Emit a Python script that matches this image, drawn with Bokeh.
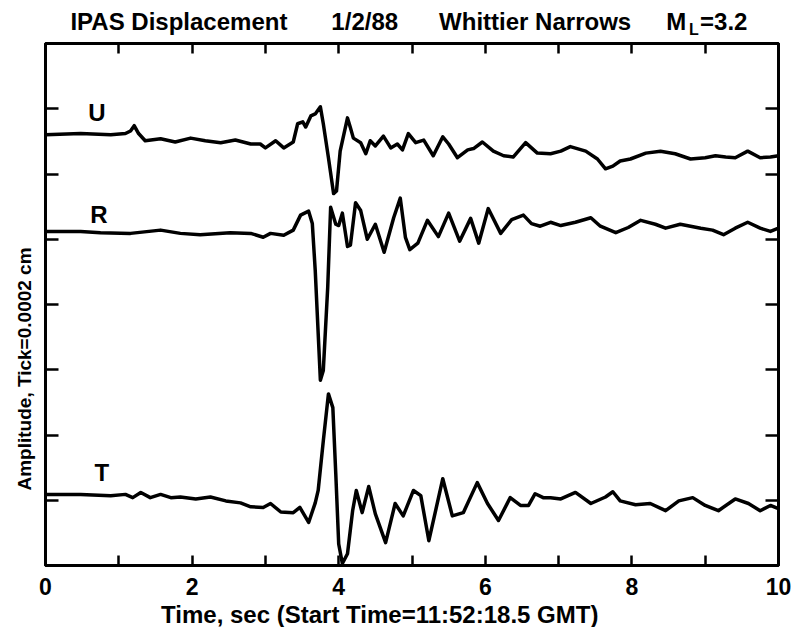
import math
from bokeh.plotting import figure
from bokeh.models import Range1d, FixedTicker, LinearAxis, Label, Title, Grid
from bokeh.layouts import column
from bokeh.embed import file_html
from bokeh.resources import INLINE

# ---------------- data ----------------
TITLE_PARTS = ["IPAS Displacement", "1/2/88", "Whittier Narrows", "M", "L", "=3.2"]
X_LABEL = "Time, sec (Start Time=11:52:18.5 GMT)"
Y_LABEL = "Amplitude, Tick=0.0002 cm"
TIME_TICKS = [0, 1, 2, 3, 4, 5, 6, 7, 8, 9, 10]
TIME_TICK_LABELS = ["0", "", "2", "", "4", "", "6", "", "8", "", "10"]
AMP_TICKS = [1, 2, 3, 4, 5, 6, 7]
COMPONENTS = ["U", "R", "T"]
TRACE_OFFSETS = [6.6, 5.12, 1.07]   # baseline of each trace, in ticks

u_time = [0, 0.48, 0.89, 1.09, 1.16, 1.21, 1.27, 1.36, 1.57, 1.77, 1.98, 2.18, 2.39, 2.59,
          2.80, 2.93, 3.00, 3.14, 3.25, 3.38, 3.44, 3.51, 3.55, 3.62, 3.68, 3.75, 3.79,
          3.86, 3.93, 3.97, 4.02, 4.12, 4.16, 4.20, 4.30, 4.37, 4.43, 4.50, 4.61, 4.71,
          4.80, 4.87, 4.95, 5.05, 5.16, 5.29, 5.42, 5.50, 5.62, 5.76, 5.84, 5.96, 6.11,
          6.25, 6.38, 6.55, 6.71, 6.89, 7.03, 7.16, 7.37, 7.53, 7.64, 7.74, 7.84, 7.98,
          8.19, 8.39, 8.59, 8.80, 9.00, 9.14, 9.28, 9.41, 9.58, 9.75, 9.89, 10.0]
u_amp = [0, 0.02, 0, 0.02, 0.06, 0.14, 0.02, -0.09, -0.06, -0.11, -0.05, -0.09, -0.12, -0.08,
         -0.14, -0.14, -0.20, -0.09, -0.20, -0.11, 0.17, 0.20, 0.12, 0.29, 0.32, 0.43, 0.17,
         -0.35, -0.90, -0.86, -0.25, 0.26, 0.11, -0.05, -0.12, -0.29, -0.09, -0.17, -0.02, -0.20,
         -0.14, -0.23, 0.02, -0.12, -0.08, -0.32, -0.03, -0.14, -0.35, -0.23, -0.21, -0.11, -0.25,
         -0.32, -0.34, -0.12, -0.28, -0.29, -0.25, -0.18, -0.25, -0.37, -0.52, -0.48, -0.40, -0.37,
         -0.28, -0.25, -0.29, -0.37, -0.35, -0.32, -0.34, -0.35, -0.25, -0.35, -0.34, -0.32]

r_time = [0, 0.48, 0.75, 1.16, 1.57, 1.84, 2.11, 2.52, 2.80, 2.97, 3.07, 3.25, 3.38, 3.48,
          3.59, 3.64, 3.68, 3.75, 3.79, 3.85, 3.89, 3.96, 4.00, 4.05, 4.12, 4.16, 4.23,
          4.30, 4.39, 4.50, 4.62, 4.75, 4.84, 4.91, 4.97, 5.08, 5.21, 5.36, 5.50, 5.65,
          5.80, 5.91, 6.04, 6.21, 6.36, 6.52, 6.63, 6.75, 6.89, 7.03, 7.23, 7.44, 7.57,
          7.78, 7.95, 8.12, 8.32, 8.46, 8.66, 8.94, 9.10, 9.25, 9.41, 9.58, 9.75, 9.89, 10.0]
r_amp = [0, 0, -0.02, -0.03, 0.02, -0.03, -0.05, -0.02, -0.03, -0.09, -0.03, -0.06, 0.02, 0.25,
         0.31, 0.12, -0.60, -2.28, -2.13, -0.86, 0.37, 0.11, 0.09, 0.28, -0.23, -0.21, 0.44,
         0.32, -0.12, 0.11, -0.32, 0.21, 0.51, -0.09, -0.28, -0.18, 0.17, -0.08, 0.28, -0.15,
         0.20, -0.18, 0.35, -0.03, 0.18, 0.25, 0.12, 0.08, 0.14, 0.09, 0.14, 0.21, 0.08,
         -0.02, 0.06, 0.17, 0.11, 0.05, 0.11, 0.05, 0.02, -0.05, 0.05, 0.14, 0.05, 0, 0.05]

t_time = [0, 0.48, 0.89, 1.09, 1.19, 1.30, 1.43, 1.57, 1.71, 1.84, 2.05, 2.25, 2.46, 2.66,
          2.80, 2.97, 3.07, 3.21, 3.38, 3.47, 3.59, 3.68, 3.72, 3.79, 3.86, 3.92, 3.96,
          4.00, 4.05, 4.12, 4.19, 4.24, 4.32, 4.41, 4.50, 4.64, 4.77, 4.88, 5.02, 5.12,
          5.23, 5.42, 5.55, 5.70, 5.89, 6.03, 6.18, 6.34, 6.48, 6.59, 6.68, 6.79, 6.89,
          7.03, 7.23, 7.44, 7.64, 7.74, 7.84, 8.05, 8.25, 8.46, 8.64, 8.83, 9.00, 9.18,
          9.41, 9.59, 9.75, 9.89, 10.0]
t_amp = [0.02, 0.02, 0, 0.02, -0.03, 0.05, -0.03, 0.02, -0.03, -0.02, -0.05, -0.02, -0.08, -0.11,
         -0.17, -0.18, -0.12, -0.25, -0.26, -0.18, -0.41, -0.11, 0.08, 0.84, 1.56, 1.35, 0.34,
         -0.74, -1.04, -0.89, -0.23, 0.08, -0.26, 0.14, -0.28, -0.72, -0.12, -0.31, 0.08, 0,
         -0.69, 0.26, -0.31, -0.26, 0.20, -0.12, -0.38, -0.03, -0.15, -0.15, 0.03, -0.03, -0.03,
         -0.05, 0.05, -0.12, -0.02, 0.06, -0.08, -0.14, -0.12, -0.23, -0.08, -0.03, -0.15, -0.23,
         -0.05, -0.12, -0.23, -0.15, -0.20]

TRACES = [(u_time, u_amp), (r_time, r_amp), (t_time, t_amp)]

# ---------------- layout constants ----------------
FONT = "Liberation Sans"
W = 791
TITLE_H = 40
BOTTOM_H = 27
MAIN_H = 627 - TITLE_H - BOTTOM_H
LEFT, RIGHT, TOP, BOTTOM = 45, 13, 3, 35


def strip(height):
    f = figure(width=W, height=height,
               x_range=Range1d(0, 10), y_range=Range1d(0, height),
               x_axis_location=None, y_axis_location=None,
               output_backend="svg", toolbar_location=None,
               min_border_left=LEFT, min_border_right=RIGHT,
               min_border_top=0, min_border_bottom=0)
    f.title.visible = False
    f.outline_line_color = None
    f.background_fill_color = None
    f.border_fill_color = None
    for g in f.select(type=Grid):
        g.visible = False
    return f


# ---------------- title strip ----------------
tf = strip(TITLE_H)
title_pos = [(0.34, 19, "24px"), (3.90, 19, "24px"), (5.37, 19, "24px"),
             (8.47, 19, "24px"), (8.78, 11, "16px"), (8.93, 19, "24px")]
for txt, (tx, ty, fs) in zip(TITLE_PARTS, title_pos):
    tf.add_layout(Label(x=tx, y=ty, text=txt, text_font=FONT, text_font_style="bold",
                        text_font_size=fs, text_align="left", text_baseline="middle",
                        text_color="black"))

# ---------------- main plot ----------------
p = figure(width=W, height=MAIN_H,
           x_range=Range1d(0, 10), y_range=Range1d(0, 8),
           output_backend="svg", toolbar_location=None,
           min_border_left=LEFT, min_border_right=RIGHT,
           min_border_top=TOP, min_border_bottom=BOTTOM)
p.title.visible = False
p.background_fill_color = "white"
p.border_fill_color = None
p.outline_line_color = "black"
p.outline_line_width = 3
for g in p.select(type=Grid):
    g.visible = False


def style_axis(ax, ticks, tick_len, show_labels):
    ax.ticker = FixedTicker(ticks=ticks)
    ax.major_tick_in = tick_len
    ax.major_tick_out = 0
    ax.minor_tick_line_color = None
    ax.axis_line_color = "black"
    ax.axis_line_width = 3
    ax.major_tick_line_color = "black"
    ax.major_tick_line_width = 2.5
    if show_labels:
        ax.major_label_text_font = FONT
        ax.major_label_text_font_style = "bold"
        ax.major_label_text_font_size = "23px"
        ax.major_label_text_color = "black"
        ax.major_label_standoff = 12
    else:
        ax.major_label_text_font_size = "0px"
        ax.major_label_standoff = 0


bottom = p.xaxis[0]
style_axis(bottom, TIME_TICKS, 10, True)
bottom.major_label_overrides = {t: lab for t, lab in zip(TIME_TICKS, TIME_TICK_LABELS)}

top = LinearAxis()
style_axis(top, TIME_TICKS, 10, False)
p.add_layout(top, "above")

left = p.yaxis[0]
style_axis(left, AMP_TICKS, 13, False)

right = LinearAxis()
style_axis(right, AMP_TICKS, 13, False)
p.add_layout(right, "right")

p.add_layout(Title(text=Y_LABEL, text_font=FONT, text_font_style="bold",
                   text_font_size="19px", text_color="black",
                   align="left", offset=75, standoff=21), "left")

# traces
for (tt, aa), off in zip(TRACES, TRACE_OFFSETS):
    p.line(tt, [off + a for a in aa], line_color="black", line_width=3.5,
           line_join="round", line_cap="round")

# component labels
comp_pos = [(0.70, 6.94), (0.73, 5.38), (0.77, 1.43)]
for name, (cx, cy) in zip(COMPONENTS, comp_pos):
    p.add_layout(Label(x=cx, y=cy, text=name, text_font=FONT, text_font_style="bold",
                       text_font_size="24px", text_align="center", text_baseline="middle",
                       text_color="black"))

# ---------------- x-label strip ----------------
bf = strip(BOTTOM_H)
bf.add_layout(Label(x=4.56, y=13.5, text=X_LABEL, text_font=FONT, text_font_style="bold",
                    text_font_size="24px", text_align="center", text_baseline="middle",
                    text_color="black"))

layout = column(tf, p, bf, spacing=0)
open("out.html", "w").write(file_html(layout, INLINE))
